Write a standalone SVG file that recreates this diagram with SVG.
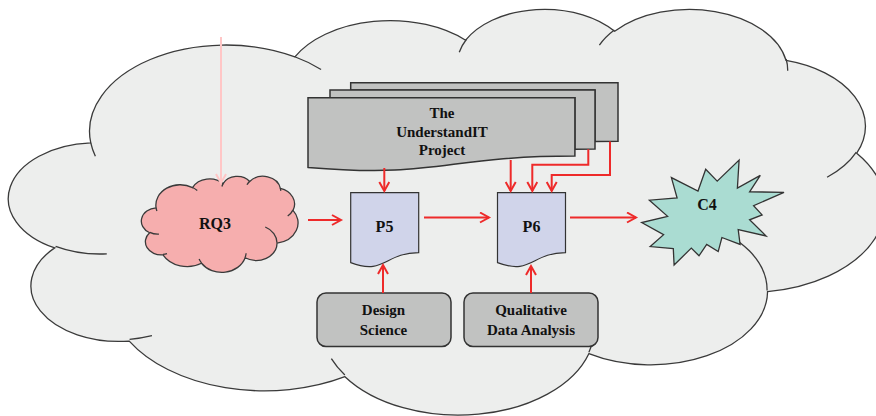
<svg xmlns="http://www.w3.org/2000/svg" xmlns:xlink="http://www.w3.org/1999/xlink" width="876" height="416" viewBox="0 0 876 416">
<style>
.cl{stroke:#3a3a3a;stroke-width:1.3;}
.lbl{font-family:"Liberation Serif","Times New Roman",serif;font-weight:bold;fill:#111;text-anchor:middle;}
.s15{font-size:15px;}
.s16{font-size:16px;}
.grey{fill:#c1c2c1;stroke:#333;stroke-width:1.5;}
.doc{fill:#d0d4ea;stroke:#333;stroke-width:1.2;}
.ar{fill:none;stroke:#ee2a2a;stroke-width:2;marker-end:url(#ah);}
</style>
<defs>
<path id="cloudBody" vector-effect="non-scaling-stroke" d="M3900,14370 A6753,9190 0 0 1 14005,5202 A5333,7267 0 0 1 22457,3431 A4365,5945 0 0 1 29834,2480 A4857,6595 0 0 1 38319,5575 A5333,7273 0 0 1 41819,15459 A6775,9220 0 0 1 37404,30201 A5785,7867 0 0 1 28557,36812 A6752,9215 0 0 1 16482,39265 A7720,10543 0 0 1 5804,35470 A4360,5918 0 0 1 2113,25548 A4345,5945 0 0 1 3900,14370 Z"/>
<path id="cloudTails" vector-effect="non-scaling-stroke" fill="none" d="M4693,26177 A4345,5945 0 0 1 2160,25380 M6928,34899 A4360,5918 0 0 1 5820,35280 M16478,39090 A6752,9215 0 0 1 15810,37349 M28827,34751 A6752,9215 0 0 1 28560,36660 M34129,22954 A5785,7867 0 0 1 37380,30090 M41798,15354 A5333,7273 0 0 1 40351,18029 M38324,5426 A4857,6595 0 0 1 38400,6690 M29078,3952 A4857,6595 0 0 1 29820,2340 M22141,4720 A4365,5945 0 0 1 22500,3330 M14000,5192 A6753,9190 0 0 1 15301,6542 M4127,15789 A6753,9190 0 0 1 3900,14371"/>
<marker id="ah" markerUnits="userSpaceOnUse" markerWidth="14" markerHeight="14" refX="10" refY="6" orient="auto">
<path d="M1,1 L10,6 L1,11" fill="none" stroke="#ee2a2a" stroke-width="2"/>
</marker>
<marker id="ahp" markerUnits="userSpaceOnUse" markerWidth="14" markerHeight="14" refX="10" refY="6" orient="auto">
<path d="M1,1 L10,6 L1,11" fill="none" stroke="#ffc6c6" stroke-width="2"/>
</marker>
</defs>
<rect width="876" height="416" fill="#fff"/>
<g id="background-cloud" transform="translate(12,8) scale(0.0202,0.00939)">
<use xlink:href="#cloudBody" class="cl" fill="#edeeed"/>
<use xlink:href="#cloudTails" class="cl"/>
</g>
<g id="node-rq3">
<g transform="translate(142,176) scale(0.003611,0.002222)">
<use xlink:href="#cloudBody" class="cl" fill="#f6aeae"/>
<use xlink:href="#cloudTails" class="cl"/>
</g>
<text class="lbl s16" x="215" y="229">RQ3</text>
</g>
<g id="node-understandit">
<path class="grey" d="M350.7,90.1 L350.7,82.7 L618,82.7 L618,141.3 C605.8,141.3 595,141.6 595,141.6 L595,90.1 Z"/>
<path class="grey" d="M330,97.7 L330,90.1 L595,90.1 L595,148.9 C585,148.9 574.9,149.3 574.9,149.3 L574.9,97.7 Z"/>
<path class="grey" d="M308,167.4 C441.4,178.6 441.4,156.1 574.9,156.1 L574.9,97.7 L308,97.7 Z"/>
<text class="lbl s15" x="442" y="118">The</text>
<text class="lbl s15" x="442" y="137">UnderstandIT</text>
<text class="lbl s15" x="442" y="155">Project</text>
</g>
<g id="node-p5">
<path class="doc" d="M350.7,192.7 H418.7 V252.7 C384.7,252.7 384.7,275.5 350.7,262.6 Z"/>
<text class="lbl s16" x="384.5" y="232">P5</text>
</g>
<g id="node-p6">
<path class="doc" d="M497.5,192.7 H565.5 V252.7 C531.5,252.7 531.5,275.5 497.5,262.6 Z"/>
<text class="lbl s16" x="531.5" y="232">P6</text>
</g>
<g id="node-c4">
<polygon fill="#aadcd2" stroke="#333" stroke-width="1.3" points="717.2,181.1 705.7,169.2 698,191 671.4,177.6 677.1,198 649.4,200.2 667.6,216.3 641.7,222.6 663.6,234.7 650.2,246.6 673.3,248.7 674.1,265 691.3,248.1 699,255.8 706.7,244.4 718.2,251.6 721.9,237.5 740.1,244.4 738.2,229.7 766.1,236 749.6,219.8 762.1,214.9 753.6,205.7 784,192.3 749.6,191.8 760.3,175.4 737.4,188.1 739.1,160"/>
<text class="lbl s16" x="707" y="210">C4</text>
</g>
<g id="node-design-science">
<rect class="grey" x="317" y="293" width="134" height="53.5" rx="9"/>
<text class="lbl s15" x="383.5" y="315">Design</text>
<text class="lbl s15" x="383.5" y="335">Science</text>
</g>
<g id="node-qualitative-data-analysis">
<rect class="grey" x="464" y="293" width="134" height="53.5" rx="9"/>
<text class="lbl s15" x="531" y="315">Qualitative</text>
<text class="lbl s15" x="531" y="335">Data Analysis</text>
</g>
<g id="connectors">
<path d="M221,37 L221,183" fill="none" stroke="#ffc6c6" stroke-width="2" marker-end="url(#ahp)"/>
<path class="ar" d="M308,220 L341,220"/>
<path class="ar" d="M424,217.5 L489,217.5"/>
<path class="ar" d="M570,217.5 L636,217.5"/>
<path class="ar" d="M384.3,168 L384.3,191"/>
<path class="ar" d="M510.7,160 L510.7,191"/>
<path class="ar" d="M588.3,149.3 L588.3,164.7 L532.3,164.7 L532.3,191"/>
<path class="ar" d="M610,141.5 L610,175 L551.7,175 L551.7,191"/>
<path class="ar" d="M383,293 L383,265"/>
<path class="ar" d="M531,293 L531,266"/>
</g>
</svg>
